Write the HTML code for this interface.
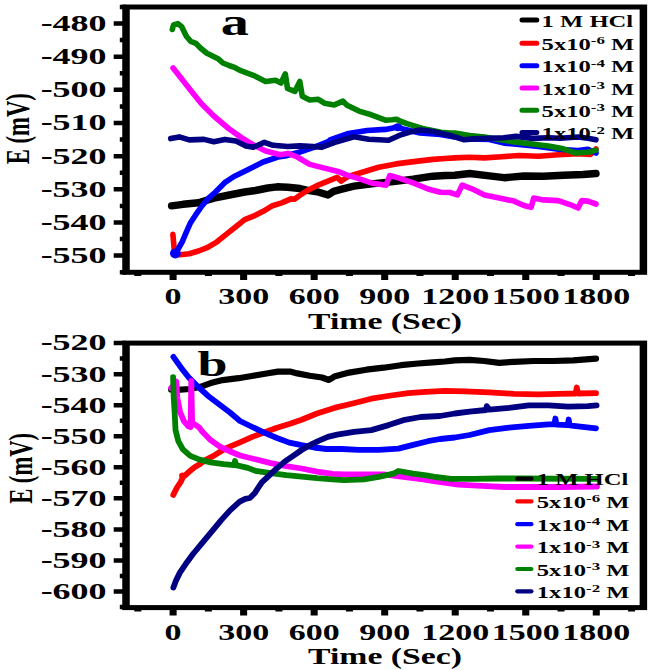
<!DOCTYPE html>
<html><head><meta charset="utf-8"><style>
html,body{margin:0;padding:0;background:#fff;}
svg{display:block;}
</style></head><body>
<svg width="649" height="670" viewBox="0 0 649 670">
<rect width="649" height="670" fill="#fff"/>
<g transform="scale(1.5,1)">
<g>
<path d="M114.40 205.80 L122.07 204.30 L132.33 202.70 L142.60 198.10 L152.87 195.00 L163.13 192.00 L170.33 190.50 L178.53 188.00 L184.67 186.80 L191.87 187.20 L200.00 188.50 L205.13 190.30 L212.53 192.20 L218.67 195.00 L222.40 191.30 L227.27 189.40 L236.00 186.10 L249.20 183.60 L262.33 181.60 L275.47 179.20 L288.60 176.20 L296.67 175.50 L303.20 175.20 L313.07 173.50 L326.20 175.90 L336.07 177.70 L349.20 176.00 L362.33 176.20 L375.53 175.20 L388.67 174.50 L397.33 173.50" stroke="#000000" stroke-width="7.4" fill="none" stroke-linecap="round" stroke-linejoin="round" vector-effect="non-scaling-stroke"/>
<path d="M115.27 234.40 L116.13 249.20 L118.20 253.50 L120.00 254.70 L126.13 253.80 L132.33 251.00 L138.47 247.30 L144.67 241.80 L150.80 234.40 L157.00 227.00 L163.13 219.60 L169.33 215.90 L175.47 211.30 L181.67 205.70 L187.80 202.90 L193.93 198.90 L196.33 199.30 L200.20 195.00 L205.13 190.30 L211.27 185.70 L218.67 181.10 L224.80 177.40 L227.33 181.10 L232.20 176.50 L242.60 171.80 L252.47 167.30 L264.00 163.90 L277.13 161.40 L288.60 159.40 L296.67 158.50 L303.20 157.90 L313.07 157.20 L322.93 157.90 L334.40 156.70 L345.93 155.50 L359.07 156.20 L372.20 154.70 L385.40 153.70 L393.60 154.50 L397.33 149.00" stroke="#ff0000" stroke-width="5.6" fill="none" stroke-linecap="round" stroke-linejoin="round" vector-effect="non-scaling-stroke"/>
<path d="M116.53 252.90 L118.00 251.00 L121.47 241.80 L123.93 233.20 L126.80 223.30 L130.53 214.70 L134.60 206.00 L138.73 198.60 L143.67 192.00 L149.80 182.70 L156.00 176.50 L165.53 169.40 L175.40 162.00 L185.27 157.10 L190.00 156.00 L199.87 152.00 L209.73 147.10 L219.60 141.00 L220.00 139.80 L232.33 133.40 L244.67 130.50 L257.00 129.40 L262.00 128.00 L265.00 126.60 L268.07 128.80 L280.00 133.00 L293.33 134.50 L303.20 137.00 L313.07 139.00 L326.20 139.50 L336.07 143.10 L345.93 144.40 L359.07 146.40 L372.20 149.30 L385.40 150.50 L391.93 149.30 L397.33 153.00" stroke="#0000ff" stroke-width="5.6" fill="none" stroke-linecap="round" stroke-linejoin="round" vector-effect="non-scaling-stroke"/>
<ellipse cx="116.93" cy="253.4" rx="3.60" ry="5.0" fill="#0000ff"/>
<ellipse cx="265.20" cy="127.2" rx="2.93" ry="4.0" fill="#0000ff"/>
<path d="M115.40 68.00 L121.20 79.00 L127.73 91.40 L134.33 103.70 L142.53 116.00 L152.40 128.50 L160.67 137.40 L168.87 144.80 L177.07 151.00 L186.93 154.70 L191.87 153.40 L198.20 157.00 L206.47 164.40 L216.27 168.10 L226.13 171.80 L232.20 175.50 L237.67 177.90 L247.53 182.90 L257.40 185.30 L259.87 175.50 L265.60 177.90 L275.47 182.90 L285.33 189.00 L293.53 192.20 L299.93 192.50 L304.87 194.90 L308.13 185.10 L314.67 188.80 L322.93 194.90 L334.40 198.60 L342.67 201.10 L349.20 205.50 L354.13 207.20 L355.80 198.10 L362.33 199.90 L372.20 200.60 L380.47 204.80 L385.40 208.00 L387.87 200.60 L391.93 201.10 L397.33 204.00" stroke="#ff00ff" stroke-width="5.6" fill="none" stroke-linecap="round" stroke-linejoin="round" vector-effect="non-scaling-stroke"/>
<path d="M114.87 29.50 L115.73 25.00 L118.60 23.60 L121.07 26.60 L122.67 31.50 L124.33 36.50 L127.20 41.40 L130.53 43.30 L133.80 48.20 L137.93 53.20 L142.00 56.20 L145.33 58.70 L148.60 63.00 L152.67 65.50 L156.80 67.70 L160.00 70.40 L168.87 75.30 L177.07 81.50 L183.67 80.30 L187.33 83.00 L190.20 74.00 L191.67 88.50 L196.60 91.40 L199.87 81.50 L201.53 96.30 L206.47 100.00 L212.20 99.30 L216.27 103.20 L222.87 104.90 L228.67 101.20 L231.07 104.90 L239.33 111.10 L247.53 114.80 L257.00 120.20 L261.33 119.80 L264.40 119.20 L267.33 121.50 L271.80 123.90 L281.67 128.50 L294.00 132.20 L300.00 133.10 L303.20 133.00 L313.07 135.50 L322.93 137.00 L332.80 139.40 L342.67 141.90 L355.80 144.30 L365.67 146.00 L375.53 148.80 L383.73 153.00 L391.93 152.30 L397.33 150.30" stroke="#008000" stroke-width="5.6" fill="none" stroke-linecap="round" stroke-linejoin="round" vector-effect="non-scaling-stroke"/>
<path d="M113.80 138.60 L119.53 136.90 L126.13 139.90 L136.00 139.40 L142.53 141.80 L149.93 139.40 L157.33 141.10 L163.93 146.00 L168.87 147.30 L176.27 142.30 L182.00 145.30 L191.87 146.50 L199.87 145.90 L214.67 147.10 L224.53 141.70 L236.00 136.80 L245.87 139.20 L259.07 140.20 L267.27 134.80 L273.27 132.00 L280.00 130.00 L288.60 131.50 L299.53 135.20 L309.40 139.80 L316.00 138.90 L325.87 138.40 L335.73 137.70 L343.93 136.40 L355.40 138.40 L365.67 137.70 L373.33 138.20 L385.40 137.00 L391.93 138.20 L397.33 139.80" stroke="#000080" stroke-width="5.6" fill="none" stroke-linecap="round" stroke-linejoin="round" vector-effect="non-scaling-stroke"/>
<rect x="84.00" y="7.00" width="344.93" height="265.30" fill="none" stroke="#000" stroke-width="5" stroke-linejoin="miter"/>
<path d="M79.87 6.98H84.00 M75.80 23.55H84.00 M79.87 40.12H84.00 M75.80 56.70H84.00 M79.87 73.28H84.00 M75.80 89.85H84.00 M79.87 106.42H84.00 M75.80 123.00H84.00 M79.87 139.57H84.00 M75.80 156.15H84.00 M79.87 172.73H84.00 M75.80 189.30H84.00 M79.87 205.88H84.00 M75.80 222.45H84.00 M79.87 239.03H84.00 M75.80 255.60H84.00 M79.87 272.18H84.00" stroke="#000" stroke-width="4.5" fill="none"/>
<path d="M91.89 272.30V276.10 M115.40 272.30V280.10 M138.91 272.30V276.10 M162.42 272.30V280.10 M185.93 272.30V276.10 M209.44 272.30V280.10 M232.95 272.30V276.10 M256.46 272.30V280.10 M279.97 272.30V276.10 M303.48 272.30V280.10 M326.99 272.30V276.10 M350.50 272.30V280.10 M374.01 272.30V276.10 M397.52 272.30V280.10 M421.03 272.30V276.10" stroke="#000" stroke-width="4.7" fill="none"/>
<text x="71.07" y="30.95" font-family="Liberation Serif" font-weight="bold" font-size="24" text-anchor="end">-480</text>
<text x="71.07" y="64.10" font-family="Liberation Serif" font-weight="bold" font-size="24" text-anchor="end">-490</text>
<text x="71.07" y="97.25" font-family="Liberation Serif" font-weight="bold" font-size="24" text-anchor="end">-500</text>
<text x="71.07" y="130.40" font-family="Liberation Serif" font-weight="bold" font-size="24" text-anchor="end">-510</text>
<text x="71.07" y="163.55" font-family="Liberation Serif" font-weight="bold" font-size="24" text-anchor="end">-520</text>
<text x="71.07" y="196.70" font-family="Liberation Serif" font-weight="bold" font-size="24" text-anchor="end">-530</text>
<text x="71.07" y="229.85" font-family="Liberation Serif" font-weight="bold" font-size="24" text-anchor="end">-540</text>
<text x="71.07" y="263.00" font-family="Liberation Serif" font-weight="bold" font-size="24" text-anchor="end">-550</text>
<text transform="translate(115.40,304.00) scale(0.965,1)" font-family="Liberation Serif" font-weight="bold" font-size="23.5" text-anchor="middle">0</text>
<text transform="translate(162.42,304.00) scale(0.965,1)" font-family="Liberation Serif" font-weight="bold" font-size="23.5" text-anchor="middle">300</text>
<text transform="translate(209.44,304.00) scale(0.965,1)" font-family="Liberation Serif" font-weight="bold" font-size="23.5" text-anchor="middle">600</text>
<text transform="translate(256.46,304.00) scale(0.965,1)" font-family="Liberation Serif" font-weight="bold" font-size="23.5" text-anchor="middle">900</text>
<text transform="translate(303.48,304.00) scale(0.965,1)" font-family="Liberation Serif" font-weight="bold" font-size="23.5" text-anchor="middle">1200</text>
<text transform="translate(350.50,304.00) scale(0.965,1)" font-family="Liberation Serif" font-weight="bold" font-size="23.5" text-anchor="middle">1500</text>
<text transform="translate(397.52,304.00) scale(0.965,1)" font-family="Liberation Serif" font-weight="bold" font-size="23.5" text-anchor="middle">1800</text>
<text x="256.67" y="328.6" font-family="Liberation Serif" font-weight="bold" font-size="22.5" text-anchor="middle">Time (Sec)</text>
<text transform="translate(19.07,128.7) rotate(-90)" font-family="Liberation Serif" font-weight="bold" font-size="22.6" text-anchor="middle">E (mV)</text>
<text x="156.53" y="35.3" font-family="Liberation Serif" font-weight="bold" font-size="37.5" text-anchor="middle">a</text>
<path d="M348.00 20.10H357.87" stroke="#000000" stroke-width="5" stroke-linecap="round" vector-effect="non-scaling-stroke"/>
<text transform="translate(361.07,26.60) scale(1.025,1)" font-family="Liberation Serif" font-weight="bold" font-size="16">1 M HCl</text>
<path d="M348.00 43.20H357.87" stroke="#ff0000" stroke-width="5" stroke-linecap="round" vector-effect="non-scaling-stroke"/>
<text transform="translate(361.07,49.70) scale(1.025,1)" font-family="Liberation Serif" font-weight="bold" font-size="16">5x10<tspan dy="-5.5" font-size="11">-6</tspan><tspan dy="5.5"> M</tspan></text>
<path d="M348.00 65.70H357.87" stroke="#0000ff" stroke-width="5" stroke-linecap="round" vector-effect="non-scaling-stroke"/>
<text transform="translate(361.07,72.20) scale(1.025,1)" font-family="Liberation Serif" font-weight="bold" font-size="16">1x10<tspan dy="-5.5" font-size="11">-4</tspan><tspan dy="5.5"> M</tspan></text>
<path d="M348.00 88.00H357.87" stroke="#ff00ff" stroke-width="5" stroke-linecap="round" vector-effect="non-scaling-stroke"/>
<text transform="translate(361.07,94.50) scale(1.025,1)" font-family="Liberation Serif" font-weight="bold" font-size="16">1x10<tspan dy="-5.5" font-size="11">-3</tspan><tspan dy="5.5"> M</tspan></text>
<path d="M348.00 110.30H357.87" stroke="#008000" stroke-width="5" stroke-linecap="round" vector-effect="non-scaling-stroke"/>
<text transform="translate(361.07,116.80) scale(1.025,1)" font-family="Liberation Serif" font-weight="bold" font-size="16">5x10<tspan dy="-5.5" font-size="11">-3</tspan><tspan dy="5.5"> M</tspan></text>
<path d="M348.00 132.60H357.87" stroke="#000080" stroke-width="5" stroke-linecap="round" vector-effect="non-scaling-stroke"/>
<text transform="translate(361.07,139.10) scale(1.025,1)" font-family="Liberation Serif" font-weight="bold" font-size="16">1x10<tspan dy="-5.5" font-size="11">-2</tspan><tspan dy="5.5"> M</tspan></text>
</g>
<g>
<path d="M114.13 389.50 L118.13 389.80 L126.60 389.00 L133.53 386.80 L140.47 383.10 L148.47 380.10 L159.00 378.20 L168.87 375.70 L178.67 373.30 L185.27 371.60 L193.33 371.60 L198.20 373.40 L206.47 375.80 L214.67 377.50 L219.27 380.00 L222.87 376.60 L232.73 372.60 L244.27 369.70 L255.73 367.70 L267.27 365.20 L278.73 363.50 L288.60 362.30 L296.67 361.50 L303.20 360.30 L313.07 359.80 L322.93 361.00 L332.80 362.80 L342.67 361.80 L355.80 361.00 L368.93 361.00 L382.07 360.30 L397.33 358.60" stroke="#000000" stroke-width="6.2" fill="none" stroke-linecap="round" stroke-linejoin="round" vector-effect="non-scaling-stroke"/>
<path d="M115.53 494.90 L118.00 487.50 L120.47 482.00 L121.67 478.00 L121.33 475.50 L122.67 476.40 L126.00 471.80 L129.73 467.20 L133.40 464.00 L137.13 459.80 L142.07 456.10 L147.00 451.50 L150.00 448.70 L160.00 442.30 L168.20 436.90 L176.47 432.30 L184.67 427.70 L192.87 423.90 L201.07 419.80 L211.33 413.50 L222.87 407.90 L234.40 403.70 L247.53 398.70 L260.67 395.50 L272.20 393.10 L283.67 391.80 L296.67 390.80 L309.80 391.40 L326.20 392.30 L342.67 393.80 L359.07 394.30 L372.20 393.80 L383.67 393.50 L384.53 387.50 L385.33 393.50 L397.33 393.10" stroke="#ff0000" stroke-width="5.8" fill="none" stroke-linecap="round" stroke-linejoin="round" vector-effect="non-scaling-stroke"/>
<path d="M115.60 356.90 L120.60 367.40 L125.60 377.10 L131.53 386.00 L138.53 395.70 L146.47 404.70 L153.33 412.50 L160.00 421.00 L168.20 427.00 L176.47 432.90 L184.67 438.00 L192.87 442.60 L201.07 445.20 L209.33 447.50 L217.53 449.00 L227.80 449.00 L239.33 449.80 L252.47 449.80 L265.60 448.60 L275.47 444.90 L285.33 441.20 L293.33 439.00 L303.20 437.50 L313.07 435.00 L326.20 430.10 L339.33 427.60 L352.53 425.90 L365.67 424.40 L369.67 424.40 L370.27 418.50 L370.87 424.60 L378.53 425.10 L379.13 419.50 L379.73 425.40 L385.40 426.40 L397.33 428.30" stroke="#0000ff" stroke-width="5.8" fill="none" stroke-linecap="round" stroke-linejoin="round" vector-effect="non-scaling-stroke"/>
<path d="M114.00 388.00 L117.60 381.60 L118.13 397.20 L120.07 412.20 L122.60 421.10 L125.60 426.30 L127.07 427.10 L127.53 380.80 L128.07 422.60 L132.53 427.10 L134.93 431.80 L140.47 440.20 L146.60 446.60 L154.00 451.80 L160.00 455.50 L170.27 459.30 L180.53 463.10 L190.80 466.20 L201.07 468.50 L211.33 471.60 L221.60 473.90 L229.47 474.40 L242.60 474.40 L255.73 474.40 L268.87 476.90 L282.07 479.40 L290.27 481.30 L305.67 484.70 L321.07 485.90 L336.47 487.00 L346.67 487.00 L373.33 487.00 L398.00 486.50" stroke="#ff00ff" stroke-width="5.8" fill="none" stroke-linecap="round" stroke-linejoin="round" vector-effect="non-scaling-stroke"/>
<path d="M115.40 377.10 L115.80 397.20 L116.60 416.60 L117.00 430.00 L118.87 441.10 L121.93 449.40 L126.87 455.90 L133.07 459.60 L140.47 462.40 L149.07 464.20 L156.00 465.10 L156.67 461.00 L157.33 465.20 L165.13 467.90 L170.27 470.80 L180.53 473.20 L190.80 475.20 L201.07 476.70 L211.33 478.20 L221.60 479.30 L229.47 480.10 L242.60 479.40 L252.47 476.90 L262.33 473.70 L265.60 471.00 L275.47 473.70 L285.33 475.70 L290.27 477.00 L300.53 478.80 L315.93 478.80 L331.33 478.50 L346.67 478.50 L398.00 478.80" stroke="#008000" stroke-width="5.8" fill="none" stroke-linecap="round" stroke-linejoin="round" vector-effect="non-scaling-stroke"/>
<path d="M115.60 587.60 L117.47 580.10 L119.93 572.60 L123.67 564.30 L128.67 554.00 L134.87 542.80 L141.13 531.60 L147.33 520.40 L153.53 510.10 L159.80 501.70 L163.53 498.90 L166.60 498.00 L169.73 493.30 L172.20 487.70 L174.67 482.10 L178.40 477.00 L184.00 469.00 L189.80 461.60 L195.93 455.40 L201.07 450.00 L206.20 445.40 L212.40 440.80 L218.53 436.90 L224.73 434.60 L236.00 431.80 L247.53 430.10 L259.07 425.10 L268.87 420.20 L280.40 417.00 L293.33 416.00 L303.20 413.50 L313.07 411.60 L324.00 410.00 L324.53 406.10 L326.20 409.60 L339.33 407.90 L352.53 405.40 L365.67 405.40 L378.80 406.60 L391.93 406.10 L397.73 405.40" stroke="#000080" stroke-width="5.8" fill="none" stroke-linecap="round" stroke-linejoin="round" vector-effect="non-scaling-stroke"/>
<rect x="84.00" y="343.10" width="344.93" height="264.50" fill="none" stroke="#000" stroke-width="5" stroke-linejoin="miter"/>
<path d="M75.80 343.10H84.00 M79.87 358.62H84.00 M75.80 374.15H84.00 M79.87 389.68H84.00 M75.80 405.20H84.00 M79.87 420.73H84.00 M75.80 436.25H84.00 M79.87 451.78H84.00 M75.80 467.30H84.00 M79.87 482.83H84.00 M75.80 498.35H84.00 M79.87 513.88H84.00 M75.80 529.40H84.00 M79.87 544.92H84.00 M75.80 560.45H84.00 M79.87 575.98H84.00 M75.80 591.50H84.00 M79.87 607.03H84.00" stroke="#000" stroke-width="4.5" fill="none"/>
<path d="M91.89 607.60V611.40 M115.40 607.60V615.40 M138.91 607.60V611.40 M162.42 607.60V615.40 M185.93 607.60V611.40 M209.44 607.60V615.40 M232.95 607.60V611.40 M256.46 607.60V615.40 M279.97 607.60V611.40 M303.48 607.60V615.40 M326.99 607.60V611.40 M350.50 607.60V615.40 M374.01 607.60V611.40 M397.52 607.60V615.40 M421.03 607.60V611.40" stroke="#000" stroke-width="4.7" fill="none"/>
<text x="71.07" y="350.50" font-family="Liberation Serif" font-weight="bold" font-size="24" text-anchor="end">-520</text>
<text x="71.07" y="381.55" font-family="Liberation Serif" font-weight="bold" font-size="24" text-anchor="end">-530</text>
<text x="71.07" y="412.60" font-family="Liberation Serif" font-weight="bold" font-size="24" text-anchor="end">-540</text>
<text x="71.07" y="443.65" font-family="Liberation Serif" font-weight="bold" font-size="24" text-anchor="end">-550</text>
<text x="71.07" y="474.70" font-family="Liberation Serif" font-weight="bold" font-size="24" text-anchor="end">-560</text>
<text x="71.07" y="505.75" font-family="Liberation Serif" font-weight="bold" font-size="24" text-anchor="end">-570</text>
<text x="71.07" y="536.80" font-family="Liberation Serif" font-weight="bold" font-size="24" text-anchor="end">-580</text>
<text x="71.07" y="567.85" font-family="Liberation Serif" font-weight="bold" font-size="24" text-anchor="end">-590</text>
<text x="71.07" y="598.90" font-family="Liberation Serif" font-weight="bold" font-size="24" text-anchor="end">-600</text>
<text transform="translate(115.40,640.00) scale(0.965,1)" font-family="Liberation Serif" font-weight="bold" font-size="23.5" text-anchor="middle">0</text>
<text transform="translate(162.42,640.00) scale(0.965,1)" font-family="Liberation Serif" font-weight="bold" font-size="23.5" text-anchor="middle">300</text>
<text transform="translate(209.44,640.00) scale(0.965,1)" font-family="Liberation Serif" font-weight="bold" font-size="23.5" text-anchor="middle">600</text>
<text transform="translate(256.46,640.00) scale(0.965,1)" font-family="Liberation Serif" font-weight="bold" font-size="23.5" text-anchor="middle">900</text>
<text transform="translate(303.48,640.00) scale(0.965,1)" font-family="Liberation Serif" font-weight="bold" font-size="23.5" text-anchor="middle">1200</text>
<text transform="translate(350.50,640.00) scale(0.965,1)" font-family="Liberation Serif" font-weight="bold" font-size="23.5" text-anchor="middle">1500</text>
<text transform="translate(397.52,640.00) scale(0.965,1)" font-family="Liberation Serif" font-weight="bold" font-size="23.5" text-anchor="middle">1800</text>
<text x="256.67" y="664.0" font-family="Liberation Serif" font-weight="bold" font-size="22.5" text-anchor="middle">Time (Sec)</text>
<text transform="translate(21.33,468.4) rotate(-90)" font-family="Liberation Serif" font-weight="bold" font-size="22.6" text-anchor="middle">E (mV)</text>
<text x="141.67" y="376.0" font-family="Liberation Serif" font-weight="bold" font-size="36" text-anchor="middle">b</text>
<path d="M344.87 478.70H354.27" stroke="#000000" stroke-width="4.2" stroke-linecap="round" vector-effect="non-scaling-stroke"/>
<text transform="translate(357.87,485.20) scale(1.025,1)" font-family="Liberation Serif" font-weight="bold" font-size="16">1 M HCl</text>
<path d="M344.87 501.40H354.27" stroke="#ff0000" stroke-width="4.2" stroke-linecap="round" vector-effect="non-scaling-stroke"/>
<text transform="translate(357.87,507.90) scale(1.025,1)" font-family="Liberation Serif" font-weight="bold" font-size="16">5x10<tspan dy="-5.5" font-size="11">-6</tspan><tspan dy="5.5"> M</tspan></text>
<path d="M344.87 524.20H354.27" stroke="#0000ff" stroke-width="4.2" stroke-linecap="round" vector-effect="non-scaling-stroke"/>
<text transform="translate(357.87,530.70) scale(1.025,1)" font-family="Liberation Serif" font-weight="bold" font-size="16">1x10<tspan dy="-5.5" font-size="11">-4</tspan><tspan dy="5.5"> M</tspan></text>
<path d="M344.87 546.60H354.27" stroke="#ff00ff" stroke-width="4.2" stroke-linecap="round" vector-effect="non-scaling-stroke"/>
<text transform="translate(357.87,553.10) scale(1.025,1)" font-family="Liberation Serif" font-weight="bold" font-size="16">1x10<tspan dy="-5.5" font-size="11">-3</tspan><tspan dy="5.5"> M</tspan></text>
<path d="M344.87 569.00H354.27" stroke="#008000" stroke-width="4.2" stroke-linecap="round" vector-effect="non-scaling-stroke"/>
<text transform="translate(357.87,575.50) scale(1.025,1)" font-family="Liberation Serif" font-weight="bold" font-size="16">5x10<tspan dy="-5.5" font-size="11">-3</tspan><tspan dy="5.5"> M</tspan></text>
<path d="M344.87 591.30H354.27" stroke="#000080" stroke-width="4.2" stroke-linecap="round" vector-effect="non-scaling-stroke"/>
<text transform="translate(357.87,597.80) scale(1.025,1)" font-family="Liberation Serif" font-weight="bold" font-size="16">1x10<tspan dy="-5.5" font-size="11">-2</tspan><tspan dy="5.5"> M</tspan></text>
</g>
</g>
</svg>
</body></html>
